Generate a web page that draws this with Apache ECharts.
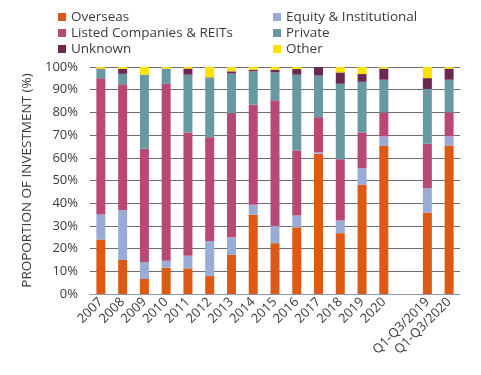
<!DOCTYPE html>
<html>
<head>
<meta charset="utf-8">
<script src="https://cdn.jsdelivr.net/npm/echarts@6/dist/echarts.min.js"></script>
<style>
  html, body { margin: 0; padding: 0; background: #fff; }
  #chart { width: 481px; height: 375px; }
</style>
</head>
<body>
<div id="chart"></div>
<script>
// categories (empty slot separates the years from the Q1-Q3 pair)
var categories = ['2007', '2008', '2009', '2010', '2011', '2012', '2013', '2014', '2015', '2016', '2017', '2018', '2019', '2020', '', 'Q1-Q3/2019', 'Q1-Q3/2020'];

// shares of investment, %
var overseas = [24, 15, 6.6, 11.6, 11.3, 7.9, 17.2, 34.9, 22.4, 29.4, 61.8, 26.8, 48.1, 65.4, '-', 35.9, 65.4];
var equity   = [11, 22, 7.4, 3, 5.5, 15.5, 7.8, 4.4, 7.6, 5.2, 0.7, 5.6, 7.3, 4, '-', 10.7, 4];
var listed   = [60, 55.4, 50, 78, 54.4, 45.6, 54.7, 44.1, 55.3, 28.6, 15.4, 27, 15.8, 10.6, '-', 19.6, 10.6];
var privat   = [4, 4.6, 32.6, 6.7, 25.4, 26.1, 17.4, 14.7, 12.3, 33.4, 18.3, 33.2, 22.3, 14.4, '-', 24.1, 14.4];
var unknown  = [0.3, 2.2, 0, 0, 2.7, 0.3, 1, 0.7, 1.2, 2.5, 3.8, 5, 3.4, 4.9, '-', 4.8, 4.9];
var other    = [0.7, 0.8, 3.4, 0.7, 0.7, 4.6, 1.9, 1.2, 1.2, 0.9, 0, 2.4, 3.1, 0.7, '-', 4.9, 0.7];

var yTicks = [0, 10, 20, 30, 40, 50, 60, 70, 80, 90, 100];

var myChart = echarts.init(document.getElementById('chart'));

function bar(name, data, color) {
  return {
    name: name,
    type: 'bar',
    stack: 'all',
    barWidth: 9,
    data: data,
    itemStyle: { color: color }
  };
}

var legendText = { fontFamily: 'Open Sans', fontSize: 13.5, color: '#3a3a3a', lineHeight: 16 };

var option = {
  animation: false,
  textStyle: { fontFamily: 'Open Sans' },
  legend: [{
    orient: 'vertical',
    left: 53,
    top: 4,
    itemWidth: 8,
    itemHeight: 8,
    itemGap: 0,
    icon: 'rect',
    textStyle: legendText,
    data: ['Overseas', 'Listed Companies & REITs', 'Unknown']
  }, {
    orient: 'vertical',
    left: 268,
    top: 4,
    itemWidth: 8,
    itemHeight: 8,
    itemGap: 0,
    icon: 'rect',
    textStyle: legendText,
    data: ['Equity & Institutional', 'Private', 'Other']
  }],
  grid: {
    left: 90,
    right: 21,
    top: 67,
    bottom: 81
  },
  xAxis: {
    type: 'category',
    data: categories,
    axisTick: { show: false },
    axisLine: { lineStyle: { color: '#8a9bb8', width: 1 } },
    axisLabel: {
      rotate: 45,
      interval: 0,
      fontSize: 13,
      color: '#3a3a3a',
      margin: 6
    }
  },
  yAxis: {
    type: 'value',
    min: 0,
    max: 100,
    interval: 10,
    name: 'PROPORTION OF INVESTMENT (%)',
    nameLocation: 'middle',
    nameGap: 50,
    nameTextStyle: { fontSize: 13.5, color: '#3a3a3a' },
    axisLine: { show: false },
    axisTick: { show: false },
    axisLabel: {
      fontSize: 13,
      color: '#3a3a3a',
      margin: 12,
      formatter: function (v) { return yTicks.indexOf(v) >= 0 ? v + '%' : ''; }
    },
    splitLine: { lineStyle: { color: '#6e6e6e', width: 1 } }
  },
  series: [
    bar('Overseas', overseas, '#dc5a14'),
    bar('Equity & Institutional', equity, '#98acd6'),
    bar('Listed Companies & REITs', listed, '#b84874'),
    bar('Private', privat, '#6799a2'),
    bar('Unknown', unknown, '#6b2950'),
    bar('Other', other, '#ffe100')
  ]
};

myChart.setOption(option);
</script>
</body>
</html>
